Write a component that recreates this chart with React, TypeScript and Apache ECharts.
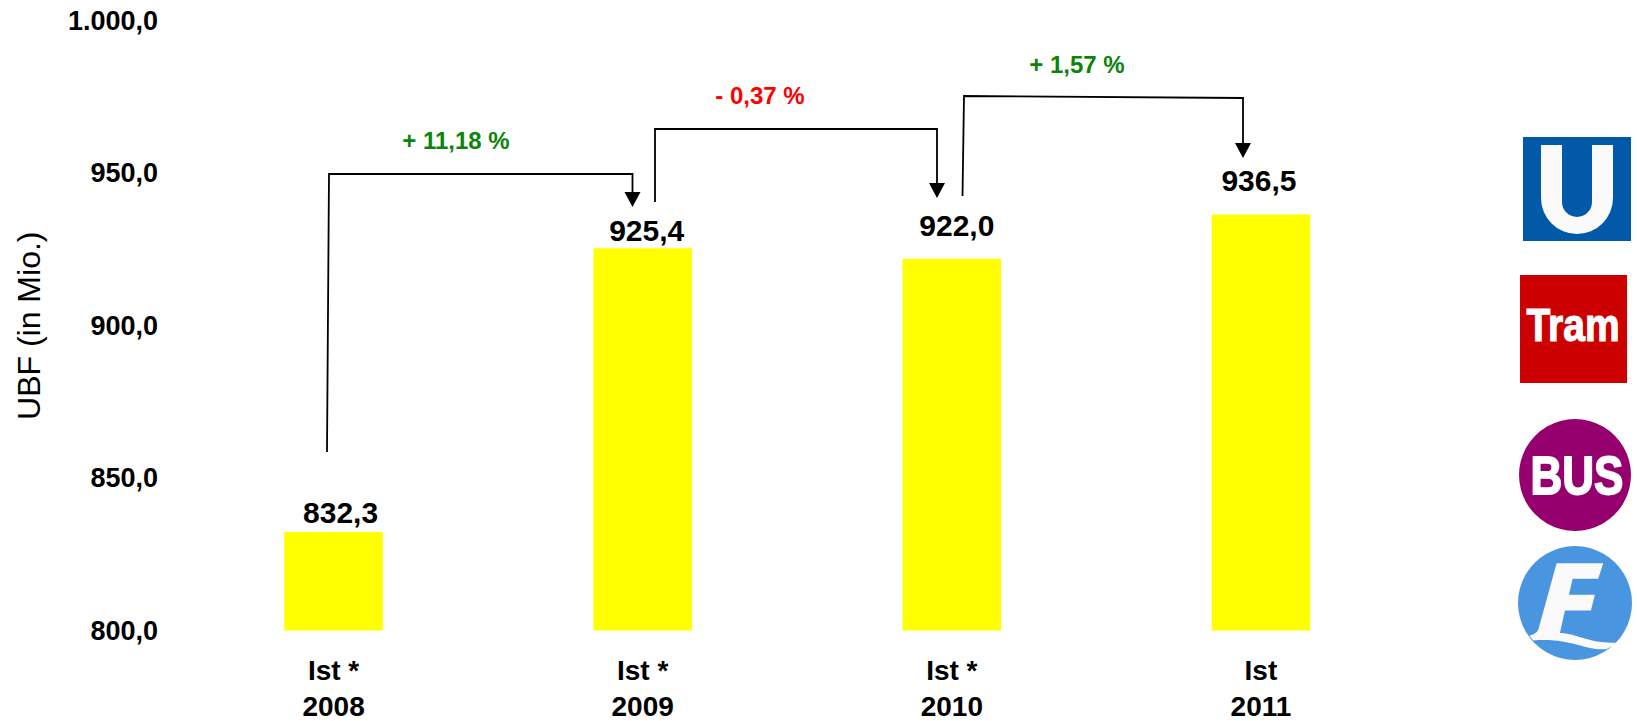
import React, { useEffect, useRef } from "react";
import * as echarts from "echarts";

const categories = ["Ist *|2008", "Ist *|2009", "Ist *|2010", "Ist|2011"];
const values = [832.3, 925.4, 922.0, 936.5];
const labelOffsets = [[7, -2], [4, 0], [5, -15], [-2, -16]];
const yTicks: Record<number, string> = { 800: "800,0", 850: "850,0", 900: "900,0", 950: "950,0", 1000: "1.000,0" };
const changes = [
  { text: "+ 11,18 %", color: "#0a840a", x: 456, y: 140 },
  { text: "- 0,37 %", color: "#ff0000", x: 760, y: 95 },
  { text: "+ 1,57 %", color: "#0a840a", x: 1077, y: 64 },
];
const connectors = [
  { pts: [[327, 452], [329, 174], [632.5, 174], [632.5, 195]], tip: [632.5, 207] },
  { pts: [[655, 202], [655, 129], [937, 129], [937, 186]], tip: [937, 198] },
  { pts: [[962.5, 196], [964, 96], [1243, 98], [1243, 146]], tip: [1243, 158] },
];
const FONT = '"Liberation Sans", Arial, sans-serif';

const U_PATH = "M1541 145H1562V202A15 15 0 0 0 1592 202V145H1613V198A36 36 0 0 1 1541 198Z";
const F_PATH = "M200 490H340L325 537H248L237 585H315L303 632H225L210 700C260 700 300 735 390 728L350 748C290 755 240 712 130 722L118 708C130 705 140 700 145 690Z";

echarts.graphic.registerShape("logoU", echarts.graphic.extendPath(U_PATH, {}) as any);
echarts.graphic.registerShape("logoF", echarts.graphic.extendPath(F_PATH, {}) as any);

export default function App() {
  const ref = useRef<HTMLDivElement>(null);
  useEffect(() => {
    const chart = echarts.init(ref.current!, undefined, { renderer: "svg" });
    const graphics: any[] = [];
    connectors.forEach((c) => {
      graphics.push({ type: "polyline", shape: { points: c.pts }, style: { fill: "none", stroke: "#000", lineWidth: 1.8 } });
      const [tx, ty] = c.tip;
      graphics.push({ type: "polygon", shape: { points: [[tx, ty], [tx - 8, ty - 15], [tx + 8, ty - 15]] }, style: { fill: "#000" } });
    });
    changes.forEach((c) => {
      graphics.push({
        type: "text", x: c.x, y: c.y,
        style: { text: c.text, fill: c.color, font: `bold 24px ${FONT}`, textAlign: "center", textVerticalAlign: "middle" },
      });
    });
    graphics.push(
      { type: "rect", shape: { x: 1523, y: 137, width: 108, height: 104 }, style: { fill: "#0259a8" } },
      { type: "logoU", x: 0, y: 0, style: { fill: "#fafafa" } },
      { type: "rect", shape: { x: 1520, y: 275, width: 107, height: 108 }, style: { fill: "#cc0000" } },
      { type: "text", x: 1573, y: 325, scaleY: 1.2, style: { text: "Tram", fill: "#fff", stroke: "#fff", lineWidth: 1, font: `bold 39px ${FONT}`, textAlign: "center", textVerticalAlign: "middle" } },
      { type: "circle", shape: { cx: 1575, cy: 475, r: 56 }, style: { fill: "#95006e" } },
      { type: "text", x: 1577, y: 476, scaleY: 1.2, style: { text: "BUS", fill: "#fff", stroke: "#fff", lineWidth: 1.5, font: `bold 44px ${FONT}`, textAlign: "center", textVerticalAlign: "middle" } },
      { type: "circle", shape: { cx: 1575, cy: 603, r: 57 }, style: { fill: "#4a95e0" } },
      { type: "logoF", x: 1490, y: 400, scaleX: 1 / 3, scaleY: 1 / 3, style: { fill: "#fafafa" } },
    );
    const xLabel = { color: "#000", fontWeight: "bold", fontSize: 28, fontFamily: FONT };
    chart.setOption({
      animation: false,
      backgroundColor: "#fff",
      textStyle: { fontFamily: FONT },
      grid: { left: 179, top: 21, width: 1236.5, bottom: 90.5, containLabel: false, outerBoundsMode: "none" },
      xAxis: {
        type: "category",
        data: categories,
        axisLine: { show: false },
        axisTick: { show: false },
        axisLabel: {
          margin: 15,
          interval: 0,
          formatter: (v: string) => {
            const [a, b] = v.split("|");
            return `{a|${a}}\n{b|${b}}`;
          },
          rich: { a: { ...xLabel, lineHeight: 50 }, b: { ...xLabel, lineHeight: 22 } },
        },
      },
      yAxis: {
        type: "value",
        min: 800,
        max: 1000,
        interval: 50,
        name: "UBF (in Mio.)",
        nameLocation: "middle",
        nameGap: 122,
        nameRotate: 90,
        nameTextStyle: { color: "#000", fontSize: 32, fontFamily: FONT, padding: [0, 0, 12, 0] },
        splitLine: { show: false },
        axisLine: { show: false },
        axisTick: { show: false },
        axisLabel: { color: "#000", fontWeight: "bold", fontSize: 27, margin: 21, fontFamily: FONT, formatter: (v: number) => yTicks[v] ?? "" },
      },
      series: [{
        type: "bar",
        barWidth: 98.5,
        itemStyle: { color: "#ffff00" },
        data: values.map((v, i) => ({
          value: v,
          label: { offset: labelOffsets[i] },
        })),
        label: {
          show: true,
          position: "top",
          distance: 3,
          color: "#000",
          fontWeight: "bold",
          fontSize: 30,
          fontFamily: FONT,
          formatter: (p: any) => p.value.toFixed(1).replace(".", ","),
        },
      }],
      graphic: { elements: graphics },
    });
    return () => chart.dispose();
  }, []);
  return <div ref={ref} style={{ position: "fixed", left: 0, top: 0, width: 1637, height: 721 }} />;
}
